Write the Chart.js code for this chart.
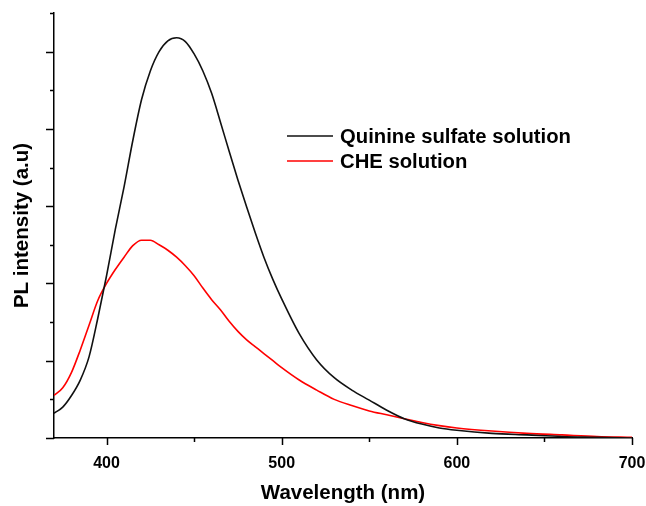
<!DOCTYPE html>
<html>
<head>
<meta charset="utf-8">
<script src="https://cdn.jsdelivr.net/npm/chart.js@4"></script>
<style>
  html, body { margin: 0; padding: 0; background: #fff; }
  #wrap { width: 646px; height: 506px; }
</style>
</head>
<body>
<div id="wrap"><canvas id="pl-chart" width="646" height="506"></canvas></div>
<script>
// wavelength (nm) and PL intensity
const wavelengths = [370, 375, 380, 385, 390, 395, 400, 405, 410, 415, 420, 425, 430, 435, 440, 445, 450, 455, 460, 465, 470, 475, 480, 485, 490, 495, 500, 510, 520, 530, 540, 550, 560, 570, 580, 590, 600, 620, 640, 660, 680, 700];
const quinine = [0.32, 0.40, 0.55, 0.75, 1.05, 1.55, 2.10, 2.70, 3.25, 3.85, 4.38, 4.75, 5.00, 5.14, 5.18, 5.13, 4.97, 4.75, 4.46, 4.09, 3.71, 3.34, 2.99, 2.65, 2.33, 2.05, 1.80, 1.35, 1.01, 0.78, 0.62, 0.49, 0.36, 0.25, 0.18, 0.13, 0.10, 0.06, 0.04, 0.02, 0.01, 0.00];
const che = [0.55, 0.65, 0.85, 1.14, 1.46, 1.78, 2.00, 2.18, 2.34, 2.49, 2.56, 2.56, 2.50, 2.43, 2.34, 2.23, 2.10, 1.94, 1.79, 1.66, 1.51, 1.38, 1.27, 1.18, 1.09, 1.00, 0.91, 0.75, 0.62, 0.50, 0.42, 0.35, 0.30, 0.25, 0.20, 0.16, 0.13, 0.09, 0.06, 0.04, 0.02, 0.01];

const xTicks = [400, 450, 500, 550, 600, 650, 700];
const yTicks = [0, 0.5, 1, 1.5, 2, 2.5, 3, 3.5, 4, 4.5, 5, 5.5];

const FONT = "'Liberation Sans', Arial, sans-serif";

function toPoints(ys) {
    return wavelengths.map((x, i) => ({x: x, y: ys[i]}));
}

// tick marks: long on major ticks, short on minor ones, pointing outwards
const tickMarks = {
    id: 'tickMarks',
    afterDraw(chart) {
        const ctx = chart.ctx;
        const xs = chart.scales.x, ys = chart.scales.y;
        ctx.save();
        ctx.strokeStyle = '#000';
        ctx.lineWidth = 1.5;
        ctx.beginPath();
        xTicks.forEach(v => {
            const px = Math.round(xs.getPixelForValue(v)) + 0.5;
            const len = v % 100 === 0 ? 7 : 4;
            ctx.moveTo(px, xs.top);
            ctx.lineTo(px, xs.top + len);
        });
        yTicks.forEach(v => {
            const py = Math.round(ys.getPixelForValue(v)) + 0.5;
            const len = v % 1 === 0 ? 8 : 4;
            ctx.moveTo(ys.right, py);
            ctx.lineTo(ys.right - len, py);
        });
        ctx.stroke();
        ctx.restore();
    }
};

// legend drawn inside the plot
const innerLegend = {
    id: 'innerLegend',
    afterDatasetsDraw(chart) {
        const ctx = chart.ctx;
        ctx.save();
        ctx.font = 'bold 20.3px ' + FONT;
        ctx.textBaseline = 'middle';
        chart.data.datasets.forEach((ds, i) => {
            const y = 136 + i * 25;
            ctx.strokeStyle = ds.borderColor;
            ctx.lineWidth = 1.5;
            ctx.beginPath();
            ctx.moveTo(287, y);
            ctx.lineTo(333, y);
            ctx.stroke();
            ctx.fillStyle = '#000';
            ctx.fillText(ds.label, 340, y + 1);
        });
        ctx.restore();
    }
};

new Chart(document.getElementById('pl-chart'), {
    type: 'line',
    data: {
        datasets: [
            {
                label: 'Quinine sulfate solution',
                data: toPoints(quinine),
                borderColor: '#111111',
                borderWidth: 1.6,
                pointRadius: 0,
                cubicInterpolationMode: 'monotone',
                fill: false
            },
            {
                label: 'CHE solution',
                data: toPoints(che),
                borderColor: '#ff0000',
                borderWidth: 1.6,
                pointRadius: 0,
                cubicInterpolationMode: 'monotone',
                fill: false
            }
        ]
    },
    options: {
        responsive: false,
        animation: false,
        layout: {
            padding: {left: 10, right: 14, top: 13, bottom: 0}
        },
        plugins: {
            legend: {display: false},
            tooltip: {enabled: false}
        },
        scales: {
            x: {
                type: 'linear',
                min: 370,
                max: 700,
                afterBuildTicks: (scale) => {
                    scale.ticks = xTicks.map(v => ({value: v}));
                },
                afterFit: (scale) => {
                    scale.height = 506 - 438;
                    scale.paddingLeft = 0;
                    scale.paddingRight = 0;
                },
                grid: {display: false},
                border: {display: true, color: '#000', width: 1.5},
                ticks: {
                    color: '#000',
                    padding: 8,
                    maxRotation: 0,
                    autoSkip: false,
                    font: {family: FONT, size: 16, weight: 'bold'},
                    callback: (v) => v % 100 === 0 ? String(v) : ''
                },
                title: {
                    display: true,
                    text: 'Wavelength (nm)',
                    color: '#000',
                    font: {family: FONT, size: 20.5, weight: 'bold'},
                    padding: {top: 4, bottom: 0}
                }
            },
            y: {
                min: 0,
                max: 5.5,
                afterBuildTicks: (scale) => {
                    scale.ticks = yTicks.map(v => ({value: v}));
                },
                afterFit: (scale) => {
                    scale.width = 44;
                },
                grid: {display: false},
                border: {display: true, color: '#000', width: 1.5},
                ticks: {display: false},
                title: {
                    display: true,
                    text: 'PL intensity (a.u)',
                    color: '#000',
                    font: {family: FONT, size: 20.5, weight: 'bold'},
                    padding: {top: 0, bottom: 12}
                }
            }
        }
    },
    plugins: [tickMarks, innerLegend]
});
</script>
</body>
</html>
